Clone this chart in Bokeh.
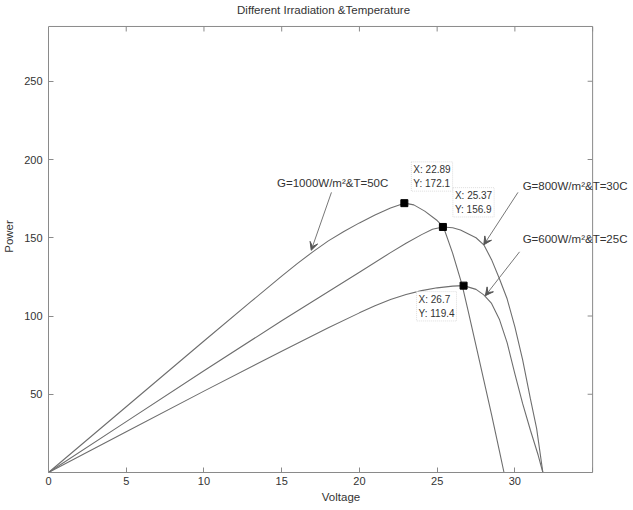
from bokeh.plotting import figure
from bokeh.models import Range1d, FixedTicker, Label, Arrow, VeeHead
from bokeh.embed import file_html
from bokeh.resources import INLINE

# P-V characteristics of the PV module under three operating conditions
v_1000 = [0, 5, 10, 13, 15, 16, 17, 18, 19, 20, 21, 22, 22.89, 23.5, 24.2, 25,
          25.4, 26, 26.6, 27, 27.5, 28, 28.5, 29, 29.3]
p_1000 = [0, 42, 84, 109, 125.5, 133.5, 141, 148, 154, 159.5, 164.5, 169, 172.1,
          171, 167, 161, 157, 140, 120, 103, 81, 59, 37, 14, 0]

v_800 = [0, 5, 10, 15, 20, 22, 23, 24, 24.7, 25.37, 26, 26.5, 27.5, 28, 28.5,
         29, 29.5, 30, 30.5, 31, 31.4, 31.8]
p_800 = [0, 32.5, 65, 97, 128, 140.5, 146.5, 152, 155.4, 156.9, 156.4,
         155, 150, 145.5, 136, 124, 111, 93, 72, 47, 28, 0]

v_600 = [0, 5, 10, 15, 18, 20, 21, 22, 23, 24, 25, 26, 26.7, 27.5, 28, 28.5,
         29, 29.5, 30, 30.5, 31, 31.5, 31.8]
p_600 = [0, 26, 52, 77.5, 92.5, 102, 106.5, 110.5, 113.7, 116.2, 118, 119.1,
         119.4, 117, 113.5, 108, 98, 83, 63, 44, 27, 11, 0]

# data-cursor points (maximum power points)
mpp_v = [22.89, 25.37, 26.7]
mpp_p = [172.1, 156.9, 119.4]

# condition labels and where their arrows start / end
cond_text = ["G=1000W/m\u00b2&T=50C", "G=800W/m\u00b2&T=30C", "G=600W/m\u00b2&T=25C"]
cond_pos = [(14.7, 185), (30.5, 183), (30.5, 149)]
arrow_from = [(18.2, 179), (30.2, 179), (30.3, 141)]
arrow_to = [(16.9, 142), (28.0, 145.5), (28.1, 113)]

title_text = "Different Irradiation &Temperature"
x_ticks = [0, 5, 10, 15, 20, 25, 30, 35]
y_ticks = [0, 50, 100, 150, 200, 250]
X_MAX = 35
Y_MAX = 285

FONT = "Liberation Sans"
LINE = "#6e6e6e"
AXIS = "#8a8a8a"
TEXT = "#333333"

# The plotting frame fills the canvas above and to the right of the axes box,
# so the title and the long annotations have room without being clipped.
p = figure(width=633, height=510, x_range=Range1d(0, 37.63),
           y_range=Range1d(0, 301.6),
           output_backend="svg", toolbar_location=None,
           min_border_left=47, min_border_right=0,
           min_border_top=0, min_border_bottom=38)

p.xgrid.visible = False
p.ygrid.visible = False
p.outline_line_color = None
p.background_fill_color = "white"
p.border_fill_color = "white"


def style_axis(ax):
    ax.axis_line_color = AXIS
    ax.major_tick_line_color = AXIS
    ax.major_tick_in = 5
    ax.major_tick_out = 0
    ax.minor_tick_line_color = None
    ax.major_label_text_font = FONT
    ax.major_label_text_font_size = "11px"
    ax.major_label_text_color = TEXT
    ax.axis_label_text_font = FONT
    ax.axis_label_text_font_size = "11.5px"
    ax.axis_label_text_font_style = "normal"
    ax.axis_label_text_color = TEXT


xa = p.xaxis[0]
xa.ticker = FixedTicker(ticks=x_ticks)
xa.bounds = (0, X_MAX)
xa.major_label_overrides = {35: ""}
xa.axis_label = "Voltage"
xa.axis_label_standoff = 3
xa.major_label_standoff = 4
style_axis(xa)

ya = p.yaxis[0]
ya.ticker = FixedTicker(ticks=y_ticks)
ya.bounds = (0, Y_MAX)
ya.major_label_overrides = {0: ""}
ya.axis_label = "Power"
ya.axis_label_standoff = 6
ya.major_label_standoff = 6
style_axis(ya)

# top and right sides of the axes box, with inward ticks
p.segment(x0=[0, X_MAX], y0=[Y_MAX, 0], x1=[X_MAX, X_MAX], y1=[Y_MAX, Y_MAX],
          line_color=AXIS, line_width=1)
p.segment(x0=x_ticks, y0=[Y_MAX] * len(x_ticks), x1=x_ticks,
          y1=[Y_MAX - 3.2] * len(x_ticks), line_color=AXIS, line_width=1)
p.segment(x0=[X_MAX - 0.32] * len(y_ticks), y0=y_ticks,
          x1=[X_MAX] * len(y_ticks), y1=y_ticks, line_color=AXIS, line_width=1)

p.add_layout(Label(x=X_MAX / 2, y=Y_MAX, x_offset=3, y_offset=16,
                   text=title_text, text_font=FONT, text_font_size="11.5px",
                   text_color=TEXT, text_align="center",
                   text_baseline="middle"))

for vs, ps in [(v_1000, p_1000), (v_800, p_800), (v_600, p_600)]:
    p.line(vs, ps, line_color=LINE, line_width=1.1)

p.scatter(mpp_v, mpp_p, marker="square", size=7, fill_color="black",
          line_color="black")

# data tips beside each marked point
tip_offsets = [(7, 12, "bottom"), (10, 10, "bottom"), (-47, -6, "top")]
for xv, yv, (dx, dy, base) in zip(mpp_v, mpp_p, tip_offsets):
    p.add_layout(Label(x=xv, y=yv, x_offset=dx, y_offset=dy,
                       text=f"X: {xv:g}\nY: {yv:g}", text_font=FONT,
                       text_font_size="10px", text_color=TEXT,
                       text_align="left", text_baseline=base,
                       text_line_height=1.3,
                       background_fill_color="white",
                       border_line_color="#dddddd", border_line_dash="1 1",
                       padding=2))

for txt, (tx, ty) in zip(cond_text, cond_pos):
    p.add_layout(Label(x=tx, y=ty, text=txt, text_font=FONT,
                       text_font_size="11.5px", text_color=TEXT,
                       text_align="left", text_baseline="middle"))

for (x0, y0), (x1, y1) in zip(arrow_from, arrow_to):
    p.add_layout(Arrow(x_start=x0, y_start=y0, x_end=x1, y_end=y1,
                       line_color="#777777", line_width=1,
                       end=VeeHead(size=8, fill_color="#555555",
                                   line_color="#555555")))

open("out.html", "w").write(file_html(p, INLINE))
